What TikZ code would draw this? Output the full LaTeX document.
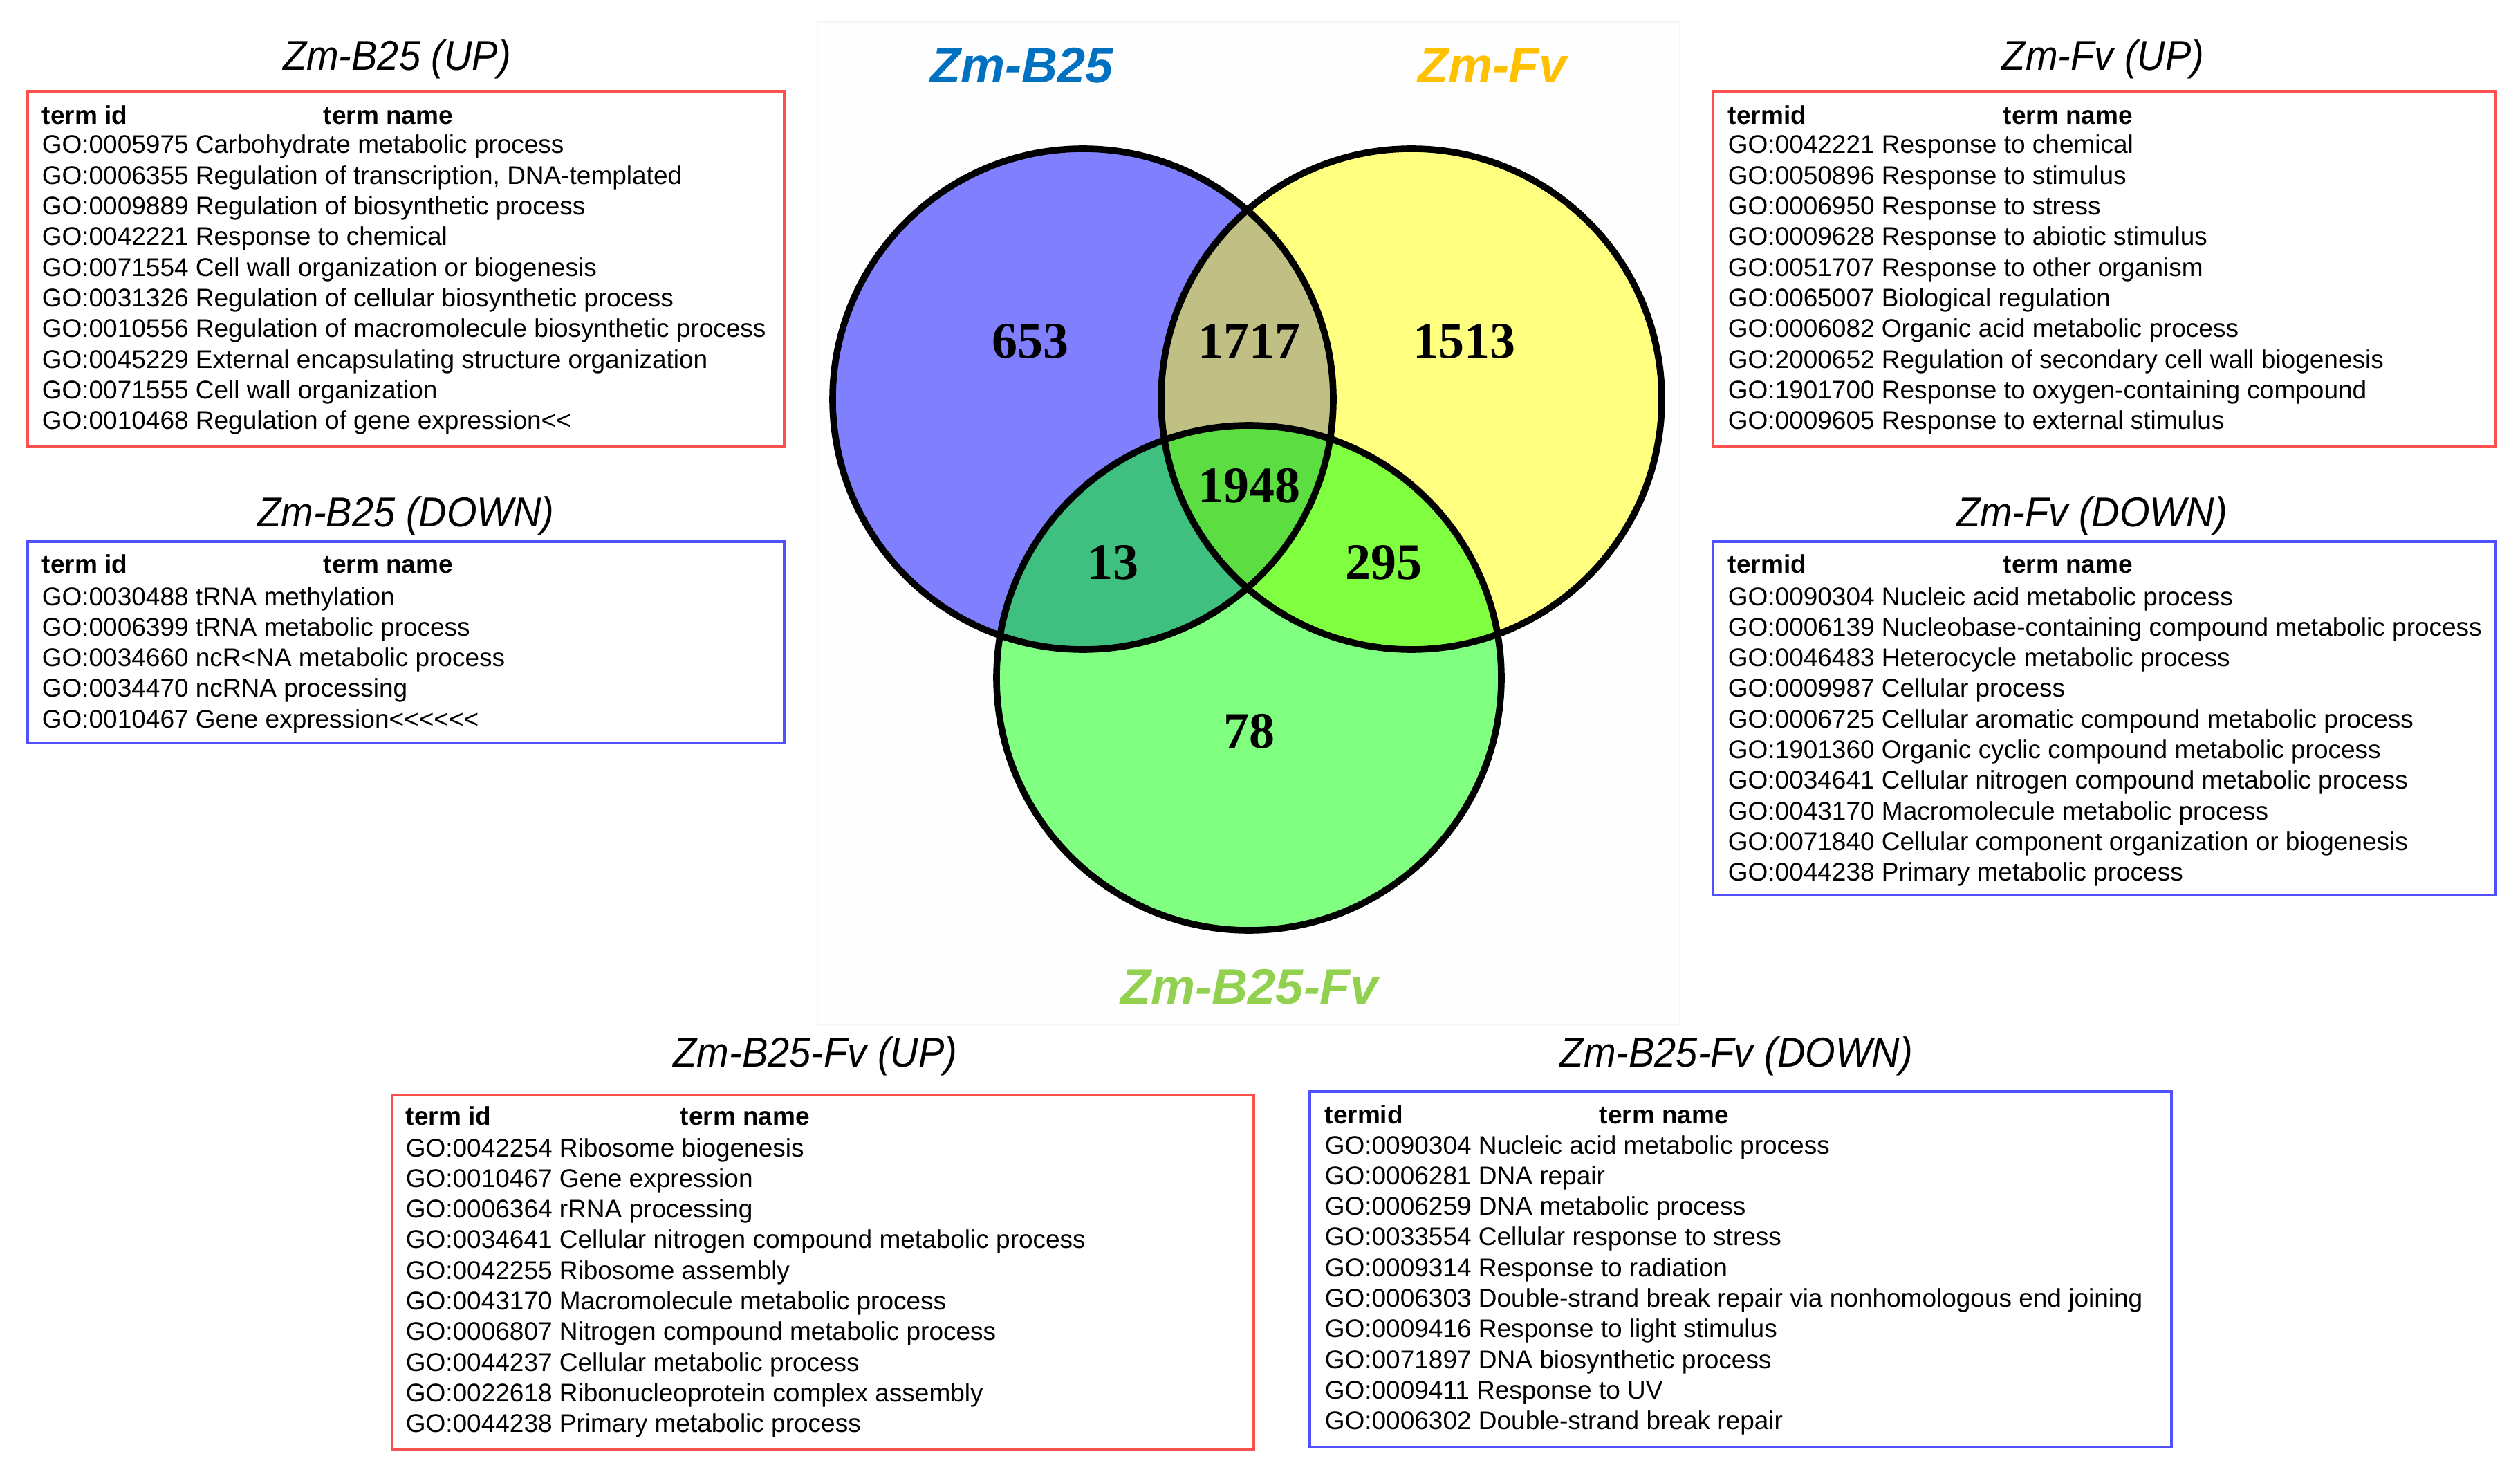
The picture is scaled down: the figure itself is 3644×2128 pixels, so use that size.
\documentclass[tikz,border=0pt]{standalone}
\usepackage{fontspec}
\setmainfont{Liberation Sans}
\newfontfamily\numfont{Liberation Serif}
\definecolor{cblue}{RGB}{128,128,255}
\definecolor{cyellow}{RGB}{255,255,128}
\definecolor{cgreen}{RGB}{128,255,128}
\definecolor{cBY}{RGB}{193,192,132}
\definecolor{cBG}{RGB}{64,192,128}
\definecolor{cYG}{RGB}{128,255,64}
\definecolor{cBYG}{RGB}{92,222,66}
\definecolor{lblue}{RGB}{0,112,192}
\definecolor{lorange}{RGB}{255,192,0}
\definecolor{lgreen}{RGB}{146,208,80}
\definecolor{boxred}{RGB}{255,80,80}
\definecolor{boxblue}{RGB}{80,80,255}
\definecolor{panelfill}{RGB}{254,254,254}
\definecolor{panelline}{RGB}{246,246,246}
\newcommand{\lsign}{<\kern0pt}
\newcommand{\golines}[4]{%
  \foreach \t [count=\i] in {#4} {
    \node[goline] (#1\i) at ({#2},{#3+(\i-1)*44.3}) {\t};
  }}
\tikzset{
  goline/.style={anchor=base west, inner sep=0pt, font=\fontsize{9.25}{11}\selectfont},
  gohead/.style={goline, font=\fontsize{9.25}{11}\selectfont\bfseries},
  boxtitle/.style={inner sep=0pt, yscale=1.08, font=\fontsize{14}{16}\selectfont\itshape},
  vennlabel/.style={inner sep=0pt, font=\fontsize{18}{20}\selectfont\bfseries\itshape},
  vennnum/.style={inner sep=0pt, font=\fontsize{18.5}{20}\selectfont\numfont\bfseries},
  redbox/.style={draw=boxred, line width=1.1pt},
  bluebox/.style={draw=boxblue, line width=1.1pt},
  vennline/.style={draw=black, line width=2.4pt},
}
\begin{document}
\begin{tikzpicture}[x=0.25pt, y=-0.25pt]
\useasboundingbox (0,0) rectangle (3644,2128);
\fill[white] (0,0) rectangle (3644,2128);
% faint panel behind the Venn diagram
\draw[panelline, fill=panelfill, line width=0.4pt] (1182,32) rectangle (2429,1482);

% Venn diagram
\coordinate (B) at (1566,577);
\coordinate (Y) at (2041,577);
\coordinate (G) at (1806,980);
\fill[cblue] (B) circle[radius=362];
\fill[cyellow] (Y) circle[radius=362];
\fill[cgreen] (G) circle[radius=365];
\begin{scope}
  \clip (B) circle[radius=362];
  \fill[cBY] (Y) circle[radius=362];
  \fill[cBG] (G) circle[radius=365];
\end{scope}
\begin{scope}
  \clip (Y) circle[radius=362];
  \fill[cYG] (G) circle[radius=365];
\end{scope}
\begin{scope}
  \clip (B) circle[radius=362];
  \clip (Y) circle[radius=362];
  \fill[cBYG] (G) circle[radius=365];
\end{scope}
\draw[vennline] (B) circle[radius=362];
\draw[vennline] (Y) circle[radius=362];
\draw[vennline] (G) circle[radius=365];

\node[vennnum] (n653) at (1490,493) {653};
\node[vennnum] (n1717) at (1806,493) {1717};
\node[vennnum] (n1513) at (2117,493) {1513};
\node[vennnum] (n1948) at (1806,702) {1948};
\node[vennnum] (n13) at (1609,813) {13};
\node[vennnum] (n295) at (2001,813) {295};
\node[vennnum] (n78) at (1806,1057) {78};

\node[vennlabel, text=lblue] (lB) at (1478,95) {Zm-B25};
\node[vennlabel, text=lorange] (lY) at (2158,95) {Zm-Fv};
\node[vennlabel, text=lgreen] (lG) at (1807,1427) {Zm-B25-Fv};

% Zm-B25 (UP)
\node[boxtitle] (tA) at (574,86) {Zm-B25 (UP)};
\draw[redbox] (40,132) rectangle (1134,646);
\node[gohead] (hA) at (60,180) {\makebox[101.75pt][l]{term id}term name};
\golines{a}{60}{222}{GO:0005975 Carbohydrate metabolic process,
  {GO:0006355 Regulation of transcription, DNA-templated},
  GO:0009889 Regulation of biosynthetic process,
  GO:0042221 Response to chemical,
  GO:0071554 Cell wall organization or biogenesis,
  GO:0031326 Regulation of cellular biosynthetic process,
  GO:0010556 Regulation of macromolecule biosynthetic process,
  GO:0045229 External encapsulating structure organization,
  GO:0071555 Cell wall organization,
  GO:0010468 Regulation of gene expression\lsign\lsign}

% Zm-B25 (DOWN)
\node[boxtitle] (tB) at (587,746) {Zm-B25 (DOWN)};
\draw[bluebox] (40,783) rectangle (1134,1074);
\node[gohead] (hB) at (60,829) {\makebox[101.75pt][l]{term id}term name};
\golines{b}{60}{875}{GO:0030488 tRNA methylation,
  GO:0006399 tRNA metabolic process,
  GO:0034660 ncR\lsign NA metabolic process,
  GO:0034470 ncRNA processing,
  GO:0010467 Gene expression\lsign\lsign\lsign\lsign\lsign\lsign}

% Zm-Fv (UP)
\node[boxtitle] (tC) at (3041,86) {Zm-Fv (UP)};
\draw[redbox] (2477,132) rectangle (3609,646);
\node[gohead] (hC) at (2498,180) {\makebox[99.5pt][l]{termid}term name};
\golines{c}{2498}{222}{GO:0042221 Response to chemical,
  GO:0050896 Response to stimulus,
  GO:0006950 Response to stress,
  GO:0009628 Response to abiotic stimulus,
  GO:0051707 Response to other organism,
  GO:0065007 Biological regulation,
  GO:0006082 Organic acid metabolic process,
  GO:2000652 Regulation of secondary cell wall biogenesis,
  GO:1901700 Response to oxygen-containing compound,
  GO:0009605 Response to external stimulus}

% Zm-Fv (DOWN)
\node[boxtitle] (tD) at (3025,746) {Zm-Fv (DOWN)};
\draw[bluebox] (2477,783) rectangle (3609,1294);
\node[gohead] (hD) at (2498,829) {\makebox[99.5pt][l]{termid}term name};
\golines{d}{2498}{875}{GO:0090304 Nucleic acid metabolic process,
  GO:0006139 Nucleobase-containing compound metabolic process,
  GO:0046483 Heterocycle metabolic process,
  GO:0009987 Cellular process,
  GO:0006725 Cellular aromatic compound metabolic process,
  GO:1901360 Organic cyclic compound metabolic process,
  GO:0034641 Cellular nitrogen compound metabolic process,
  GO:0043170 Macromolecule metabolic process,
  GO:0071840 Cellular component organization or biogenesis,
  GO:0044238 Primary metabolic process}

% Zm-B25-Fv (UP)
\node[boxtitle] (tE) at (1179,1527) {Zm-B25-Fv (UP)};
\draw[redbox] (567,1583) rectangle (1813,2096);
\node[gohead] (hE) at (586,1626) {\makebox[99.25pt][l]{term id}term name};
\golines{e}{586}{1672}{GO:0042254 Ribosome biogenesis,
  GO:0010467 Gene expression,
  GO:0006364 rRNA processing,
  GO:0034641 Cellular nitrogen compound metabolic process,
  GO:0042255 Ribosome assembly,
  GO:0043170 Macromolecule metabolic process,
  GO:0006807 Nitrogen compound metabolic process,
  GO:0044237 Cellular metabolic process,
  GO:0022618 Ribonucleoprotein complex assembly,
  GO:0044238 Primary metabolic process}

% Zm-B25-Fv (DOWN)
\node[boxtitle] (tF) at (2511,1527) {Zm-B25-Fv (DOWN)};
\draw[bluebox] (1894,1578) rectangle (3140,2092);
\node[gohead] (hF) at (1915,1624) {\makebox[99.25pt][l]{termid}term name};
\golines{f}{1915}{1668}{GO:0090304 Nucleic acid metabolic process,
  GO:0006281 DNA repair,
  GO:0006259 DNA metabolic process,
  GO:0033554 Cellular response to stress,
  GO:0009314 Response to radiation,
  GO:0006303 Double-strand break repair via nonhomologous end joining,
  GO:0009416 Response to light stimulus,
  GO:0071897 DNA biosynthetic process,
  GO:0009411 Response to UV,
  GO:0006302 Double-strand break repair}
\end{tikzpicture}
\end{document}
